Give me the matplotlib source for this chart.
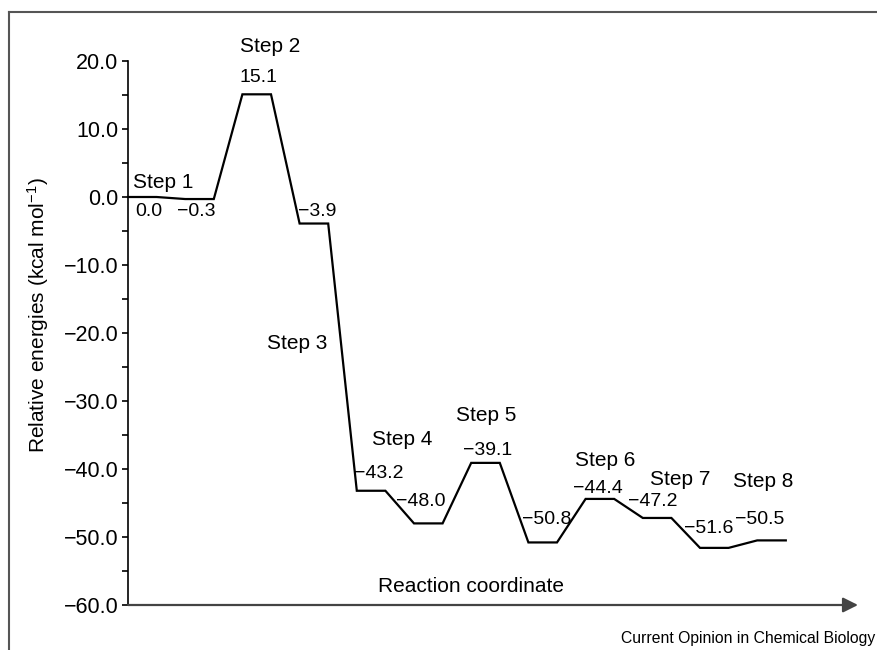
import matplotlib
matplotlib.use("Agg")
import matplotlib.pyplot as plt
from matplotlib.lines import Line2D

plt.rcParams['font.family'] = ['Liberation Sans', 'DejaVu Sans']
plt.rcParams['mathtext.fontset'] = 'custom'
plt.rcParams['mathtext.rm'] = 'Liberation Sans'

# energy levels (kcal/mol) along the reaction coordinate
levels = [0.0, -0.3, 15.1, -3.9, -43.2, -48.0, -39.1, -50.8, -44.4, -47.2, -51.6, -50.5]

# where each value label sits (data coords)
value_pos = [(0.73, -2.2), (2.38, -2.2), (4.55, 17.6), (6.61, -2.2),
             (8.78, -40.7), (10.24, -44.85), (12.59, -37.35), (14.65, -47.5),
             (16.43, -42.8), (18.36, -44.85), (20.31, -48.7), (22.1, -47.5)]

steps = ["Step 1", "Step 2", "Step 3", "Step 4", "Step 5", "Step 6", "Step 7", "Step 8"]
step_pos = [(1.22, 2.2), (4.97, 22.2), (5.91, -21.6), (9.58, -35.6),
            (12.52, -32.1), (16.68, -38.8), (19.3, -41.6), (22.2, -41.9)]

yticks = [20, 10, 0, -10, -20, -30, -40, -50, -60]


def fmt(v):
    return f"{v:.1f}".replace('-', '\u2212')


fig = plt.figure(figsize=(8.77, 6.5), dpi=100)
W, H = 877, 650
ax = fig.add_axes([128 / W, 1 - 605 / H, (858 - 128) / W, (605 - 61) / H])

# build the stepped profile: flat plateau of width 1, link of width 1
xs, ys = [], []
for i, e in enumerate(levels):
    xs += [2 * i, 2 * i + 1]
    ys += [e, e]
ax.plot(xs, ys, color='black', lw=1.6, solid_joinstyle='miter', clip_on=False)

ax.set_xlim(0, 730 / 28.6)
ax.set_ylim(-60, 20)

for spine in ['top', 'right', 'bottom']:
    ax.spines[spine].set_visible(False)
ax.spines['left'].set_linewidth(1.2)
ax.set_xticks([])
ax.set_yticks(yticks, [fmt(v) for v in yticks], fontsize=15.5)
ax.set_yticks([15, 5, -5, -15, -25, -35, -45, -55], minor=True)
ax.tick_params(axis='y', which='both', length=4, width=1.2, pad=3)

# x axis drawn as an arrow
ax.annotate('', xy=(1, 0), xytext=(0, 0), xycoords='axes fraction',
            arrowprops=dict(arrowstyle='-|>,head_length=0.6,head_width=0.3',
                            color='#444444', lw=1.6, shrinkA=0, shrinkB=0,
                            mutation_scale=15))

for v, (x, y) in zip(levels, value_pos):
    ax.text(x, y, fmt(v), fontsize=14, ha='center', va='center', clip_on=False)

for s, (x, y) in zip(steps, step_pos):
    ax.text(x, y, s, fontsize=15, ha='center', va='center', clip_on=False)

fig.text(471 / W, 1 - 587 / H, "Reaction coordinate", fontsize=15,
         ha='center', va='center')
fig.text(38 / W, 1 - 315 / H, "Relative energies (kcal mol$\\mathregular{^{-1}}$)",
         fontsize=15, ha='center', va='center', rotation=90)
fig.text(875 / W, 1 - 639 / H, "Current Opinion in Chemical Biology",
         fontsize=11.3, ha='right', va='center')

# page frame lines (top and left)
fig.add_artist(Line2D([9 / W, 1], [1 - 12 / H, 1 - 12 / H], color='#555555', lw=1.5))
fig.add_artist(Line2D([9 / W, 9 / W], [0, 1 - 12 / H], color='#555555', lw=1.5))

fig.savefig("out.png", dpi=100)
